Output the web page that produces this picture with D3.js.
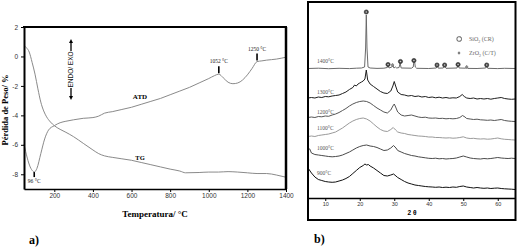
<!DOCTYPE html>
<html><head><meta charset="utf-8">
<script src="https://cdn.jsdelivr.net/npm/d3@7"></script>
<style>body{margin:0;background:#fff}svg{display:block}</style>
</head><body><svg id="c" width="517" height="248"></svg>
<script>
// ---------- Panel a) DTA / TG ----------
const atdData = [[43,-5.95],[60,-6.9],[75,-7.5],[90,-7.8],[96,-7.85],[110,-7.6],[130,-6.6],[150,-5.6],[170,-5.0],[200,-4.7],[230,-4.5],[260,-4.4],[300,-4.3],[350,-4.2],[400,-4.15],[430,-4.05],[460,-3.85],[500,-3.75],[550,-3.6],[600,-3.45],[650,-3.25],[700,-3.05],[750,-2.85],[800,-2.6],[850,-2.35],[900,-2.1],[950,-1.8],[1000,-1.5],[1030,-1.3],[1052,-1.2],[1075,-1.45],[1100,-1.75],[1125,-1.85],[1150,-1.8],[1175,-1.6],[1200,-1.25],[1225,-0.8],[1250,-0.35],[1275,-0.3],[1300,-0.25],[1350,-0.18],[1400,-0.05]];
const tgData = [[43,0.75],[55,0.6],[70,0.3],[85,-0.4],[100,-1.2],[115,-2.2],[130,-3.1],[145,-3.7],[160,-4.1],[180,-4.45],[200,-4.7],[230,-4.95],[260,-5.15],[300,-5.45],[350,-5.9],[400,-6.35],[430,-6.6],[460,-6.75],[500,-6.85],[550,-6.95],[600,-7.05],[650,-7.2],[700,-7.35],[750,-7.5],[800,-7.65],[850,-7.78],[880,-7.9],[950,-7.88],[1000,-7.85],[1050,-7.85],[1100,-7.82],[1150,-7.85],[1200,-7.9],[1250,-7.95],[1300,-7.95],[1350,-8.05],[1400,-8.2]];
const tempTicks = [200,400,600,800,1000,1200,1400];
const massTicks = [2,0,-2,-4,-6,-8];
const peakLabels = [{t:96,v:-7.85,text:"96 °C",below:true},{t:1052,v:-1.2,text:"1052 °C",below:false},{t:1250,v:-0.35,text:"1250 °C",below:false}];

// ---------- Panel b) XRD ----------
const twoThetaTicks = [10,20,30,40,50,60];
const xrd1400 = [[5,129.5],[8,129.8],[11,129.3],[14,129.7],[17,129.4],[19,129.8],[20.5,130],[21.4,131],[21.7,150],[21.9,183],[22.1,150],[22.4,131],[23,130],[25,129.6],[27,129.8],[28,130.5],[28.2,132],[28.5,130],[29.3,131],[29.6,133],[29.9,130],[30.4,131],[30.7,130],[31.4,130.5],[31.7,135],[32,130],[35,129.8],[35.5,131],[35.8,139],[36.1,131],[36.5,129.7],[40,129.5],[42.2,130],[42.5,132],[42.8,129.8],[44.2,130],[44.6,131.5],[45,129.7],[48.2,130],[48.5,133],[48.8,130],[50.7,129.8],[51,131],[51.3,129.6],[54,129.5],[56.5,130],[56.8,132],[57.1,129.7],[60,129.4],[62,129.7],[65,129.5]];
const xrd1300 = [[5,100],[6,100.5],[7,100],[8,101],[9,100.5],[10,101.5],[11,101.2],[12,102],[13,102.5],[14,103],[15,104.5],[16,106],[17,108.5],[18,110.5],[18.5,113],[19,112],[19.5,114],[20,115],[20.5,116],[21,117],[21.5,119],[21.9,128],[22.3,118],[23,114],[24,111.5],[25,109],[26,106.5],[27,105],[28,104.5],[29,107],[29.6,112],[30,116.5],[30.4,112],[31,106],[32,103.5],[33,103],[34,102],[35,102.5],[36,101.5],[37,102],[38,101],[39,101.5],[40,100.5],[41,101],[42,100.2],[43,100.8],[44,100],[45,100.5],[46,99.8],[47,100.2],[48,100],[49,101.5],[49.7,103.5],[50.3,101.5],[51,100],[52,99.5],[53,100],[54,99],[55,99.5],[56,99],[57,99.5],[58,98.8],[59,99.5],[60,100],[61,100.5],[62,99.5],[63,99],[64,98.7],[65,99]];
const xrd1200 = [[5,80.5],[6,81],[7,80.5],[8,81.5],[9,81.2],[10,82],[11,81.7],[12,83],[13,84],[14,85.5],[15,87.5],[16,89.5],[17,92],[18,94],[19,95.5],[20,96.5],[21,97],[22,96.5],[23,95],[24,92.5],[25,90],[26,88],[27,86],[28,85],[29,88],[29.6,92],[30,94],[30.4,91],[31,86],[32,83],[33,82],[34,82.5],[35,83],[36,82],[37,81],[38,80.5],[39,80.8],[40,80],[41,79.8],[42,80],[43,79.5],[44,79.7],[45,79.2],[46,79.5],[47,79.2],[48,79.5],[49,80.5],[49.8,82.5],[50.5,81],[51,79.5],[52,79],[53,78.5],[54,78.8],[55,78.2],[56,78],[57,77.7],[58,78],[59,77.5],[60,78],[61,78.5],[62,77.5],[63,77],[64,76.7],[65,76.5]];
const xrd1100 = [[5,61.5],[6,62],[7,61.5],[8,62.5],[9,63],[10,63.5],[11,64],[12,65],[13,66],[14,68],[15,70],[16,72.5],[17,75],[18,77],[19,78.5],[20,79.5],[21,80],[22,79],[23,77],[24,74],[25,71],[26,68.5],[27,67],[28,66.5],[29,68.5],[29.7,70.5],[30.4,68],[31,66],[32,65],[33,64.5],[34,63.5],[35,63],[36,62.5],[37,62],[38,61.8],[39,61.5],[40,61],[41,61],[42,60.5],[43,60.5],[44,60.2],[45,60],[46,60.2],[47,59.8],[48,60],[49,60.5],[50,61.2],[51,60],[52,59.5],[53,59.7],[54,59.2],[55,59],[56,59.2],[57,58.8],[58,59],[59,59.5],[60,60],[61,59.2],[62,58.7],[63,58.5],[64,58.2],[65,58]];
const xrd1000 = [[5,50],[5.5,49],[6,45],[7,43.5],[8,43],[9,42.5],[10,42],[11,41.5],[12,41.2],[13,41.5],[14,42],[15,43],[16,44.5],[17,46],[18,48],[19,50],[20,51.5],[21,52.5],[22,53],[23,52],[24,51.5],[25,50.5],[26,49],[27,47.5],[28,48],[29,50],[29.8,52.5],[30.5,50],[31,47.5],[32,46],[33,44.5],[34,43.5],[35,42.5],[36,42],[37,41.2],[38,40.7],[39,40.2],[40,39.7],[41,39.5],[42,39.8],[43,39.2],[44,39.5],[45,39],[46,39.3],[47,39.5],[48,40],[49,41],[50,42],[51,41],[52,40],[53,39.5],[54,39.2],[55,39],[56,39.5],[57,39.2],[58,39.5],[59,40],[60,40.5],[61,40],[62,39.7],[63,39.5],[64,39.8],[65,39.5]];
const xrd900 = [[5,30],[6,25],[7,21],[8,18.5],[9,17.5],[10,16.5],[11,16],[12,15.7],[13,16],[14,17],[15,18],[16,19.5],[17,21.5],[18,24.5],[19,27.5],[20,30.5],[21,32.5],[21.5,34],[22,33],[22.5,33.5],[23,32],[24,30],[25,27.5],[26,25],[27,22.5],[28,22],[29,23],[29.8,24],[30.5,22],[31,20.5],[32,18.5],[33,16.5],[34,15],[35,14],[36,13],[37,12.5],[38,12],[39,11.5],[40,11.2],[41,11],[42,10.7],[43,11],[44,10.5],[45,10.8],[46,10.5],[47,11],[48,10.7],[49,11.5],[50,12],[51,11],[52,10.5],[53,10],[54,10.5],[55,10],[56,9.7],[57,10],[58,9.5],[59,9.8],[60,10],[61,9.5],[62,9.2],[63,9],[64,8.8],[65,8.5]];
const xrdSeries = [
  {name:"1400°C", data:xrd1400, color:"#6a6a6a", labelV:135},
  {name:"1300°C", data:xrd1300, color:"#1e1e1e", labelV:104.5},
  {name:"1200°C", data:xrd1200, color:"#555555", labelV:84.5},
  {name:"1100°C", data:xrd1100, color:"#9a9a9a", labelV:68},
  {name:"1000°C", data:xrd1000, color:"#4a4a4a", labelV:48},
  {name:"900°C",  data:xrd900,  color:"#111111", labelV:23}
];
const sio2Markers = [[21.9,186],[28.2,133.5],[31.8,136.5],[35.7,137.5],[42.4,133],[44.6,133],[48.5,133.5],[56.8,133]];
const zro2Markers = [[29.5,133],[51,131]];
const legendItems = [{sym:"sq",text:"SiO",sub:"2",rest:" (CR)"},{sym:"di",text:"ZrO",sub:"2",rest:" (C/T)"}];

const svg = d3.select("#c");
svg.append("rect").attr("width",517).attr("height",248).attr("fill","#fff");

// ===== Panel a =====
const xA = d3.scaleLinear().domain([43,1400]).range([24,286]);
const yA = d3.scaleLinear().domain([-9,2]).range([189,27]);
const gA = svg.append("g");
const lineA = d3.line().x(d=>xA(d[0])).y(d=>yA(d[1])).curve(d3.curveMonotoneX);
gA.append("path").attr("d",lineA(atdData)).attr("fill","none").attr("stroke","#8a8a8a").attr("stroke-width",1);
gA.append("path").attr("d",lineA(tgData)).attr("fill","none").attr("stroke","#8a8a8a").attr("stroke-width",1);

const axB = gA.append("g").attr("transform","translate(0,189)")
  .call(d3.axisBottom(xA).tickValues(tempTicks).tickSize(3).tickSizeOuter(0).tickFormat(d3.format("d")));
axB.select(".domain").attr("stroke-width",1.5);
axB.selectAll("text").attr("font-family","Liberation Sans, Arial").attr("font-size",6.5).attr("fill","#333").attr("dy","0.5em");
const axL = gA.append("g").attr("transform","translate(24,0)")
  .call(d3.axisLeft(yA).tickValues(massTicks).tickSize(3).tickSizeOuter(0).tickFormat(d=>d===0?"0":String(d)));
axL.select(".domain").attr("stroke-width",2);
axL.selectAll("text").attr("font-family","Liberation Sans, Arial").attr("font-size",6.5).attr("fill","#333");
// frame top + right
gA.append("line").attr("x1",23).attr("x2",287).attr("y1",27).attr("y2",27).attr("stroke","#000").attr("stroke-width",2);
gA.append("line").attr("x1",286).attr("x2",286).attr("y1",27).attr("y2",189).attr("stroke","#000").attr("stroke-width",2.5);

// peak markers
peakLabels.forEach(p=>{
  const x = xA(p.t), y = yA(p.v);
  if (p.below) {
    gA.append("line").attr("x1",x).attr("x2",x).attr("y1",y).attr("y2",y+5).attr("stroke","#000").attr("stroke-width",1.6);
    gA.append("text").attr("x",x).attr("y",y+11).attr("text-anchor","middle").attr("font-family","Liberation Serif, Times").attr("font-size",5.5).attr("fill","#222").text(p.text);
  } else {
    gA.append("line").attr("x1",x).attr("x2",x).attr("y1",y-1).attr("y2",y-8).attr("stroke","#000").attr("stroke-width",1.6);
    gA.append("text").attr("x",x).attr("y",y-11).attr("text-anchor","middle").attr("font-family","Liberation Serif, Times").attr("font-size",5.5).attr("fill","#222").text(p.text);
  }
});
gA.append("text").attr("x",140).attr("y",99).attr("text-anchor","middle").attr("font-family","Liberation Serif, Times").attr("font-weight","bold").attr("font-size",7).text("ATD");
gA.append("text").attr("x",140).attr("y",160).attr("text-anchor","middle").attr("font-family","Liberation Serif, Times").attr("font-weight","bold").attr("font-size",6.5).text("TG");

// ENDO/EXO arrow
const ex = 71;
gA.append("line").attr("x1",ex).attr("x2",ex).attr("y1",42).attr("y2",51).attr("stroke","#000").attr("stroke-width",1.3);
gA.append("path").attr("d",`M${ex-2},43 L${ex},39 L${ex+2},43 Z`).attr("fill","#000");
gA.append("line").attr("x1",ex).attr("x2",ex).attr("y1",88).attr("y2",97).attr("stroke","#000").attr("stroke-width",1.3);
gA.append("path").attr("d",`M${ex-2},96 L${ex},100 L${ex+2},96 Z`).attr("fill","#000");
gA.append("text").attr("transform",`translate(${ex+2.2},69.5) rotate(-90)`).attr("text-anchor","middle").attr("font-family","Liberation Sans, Arial").attr("font-size",6.5).attr("fill","#111").text("ENDO/ EXO");

// axis titles
svg.append("text").attr("x",155).attr("y",217).attr("text-anchor","middle").attr("font-family","Liberation Serif, Times").attr("font-weight","bold").attr("font-size",9).text("Temperatura/ °C");
svg.append("text").attr("transform","translate(8,110) rotate(-90)").attr("text-anchor","middle").attr("font-family","Liberation Serif, Times").attr("font-weight","bold").attr("font-size",8.5).text("Pérdida de Peso/ %");
svg.append("text").attr("x",29).attr("y",244).attr("font-family","Liberation Serif, Times").attr("font-weight","bold").attr("font-size",12).text("a)");
svg.append("text").attr("x",314).attr("y",243).attr("font-family","Liberation Serif, Times").attr("font-weight","bold").attr("font-size",12).text("b)");

// ===== Panel b =====
const xB = d3.scaleLinear().domain([5,65]).range([308,515]);
const yB = d3.scaleLinear().domain([0,196]).range([198,2]);
const gB = svg.append("g");
const lineB = d3.line().x(d=>xB(d[0])).y(d=>yB(d[1]));
xrdSeries.forEach(s=>{
  gB.append("path").attr("d",lineB(s.data)).attr("fill","none").attr("stroke",s.color).attr("stroke-width",1).attr("stroke-linejoin","round");
  gB.append("text").attr("x",317).attr("y",yB(s.labelV)).attr("font-family","Liberation Serif, Times").attr("font-size",5.5).attr("fill","#555").text(s.name);
});
// markers
sio2Markers.forEach(m=>{
  const x=xB(m[0]), y=yB(m[1]);
  gB.append("circle").attr("cx",x).attr("cy",y).attr("r",2.1).attr("fill","#444").attr("stroke","#222").attr("stroke-width",0.6);
  gB.append("circle").attr("cx",x).attr("cy",y).attr("r",0.8).attr("fill","#ccc");
});
zro2Markers.forEach(m=>{
  const x=xB(m[0]), y=yB(m[1]);
  gB.append("path").attr("d",`M${x},${y-1.8} L${x+1.5},${y} L${x},${y+1.8} L${x-1.5},${y} Z`).attr("fill","#888").attr("stroke","#555").attr("stroke-width",0.4);
});
// legend
legendItems.forEach((it,i)=>{
  const y = 39 + i*14;
  if (it.sym==="sq") {
    gB.append("rect").attr("x",457).attr("y",y-2.2).attr("width",4.4).attr("height",4.4).attr("rx",1.5).attr("fill","none").attr("stroke","#555").attr("stroke-width",1);
  } else {
    gB.append("path").attr("d",`M459,${y-1.8} L460.5,${y} L459,${y+1.8} L457.5,${y} Z`).attr("fill","#777");
  }
  const t = gB.append("text").attr("x",469).attr("y",y+2).attr("font-family","Liberation Serif, Times").attr("font-size",6).attr("fill","#666");
  t.append("tspan").text(it.text);
  t.append("tspan").attr("font-size",4).attr("dy",1.5).text(it.sub);
  t.append("tspan").attr("dy",-1.5).text(it.rest);
});
// axis
const axX = gB.append("g").attr("transform","translate(0,198)")
  .call(d3.axisBottom(xB).tickValues(twoThetaTicks).tickSize(3).tickSizeOuter(0));
axX.select(".domain").attr("stroke-width",1.3);
axX.selectAll("text").attr("font-family","Liberation Sans, Arial").attr("font-size",5.5).attr("fill","#333").attr("dy","0.3em");
gB.append("text").attr("x",412).attr("y",215).attr("text-anchor","middle").attr("font-family","Liberation Sans, Arial").attr("font-weight","bold").attr("font-size",6.5).text("2 θ");
gB.append("rect").attr("x",308).attr("y",2).attr("width",207.5).attr("height",218).attr("fill","none").attr("stroke","#000").attr("stroke-width",2);
</script></body></html>
